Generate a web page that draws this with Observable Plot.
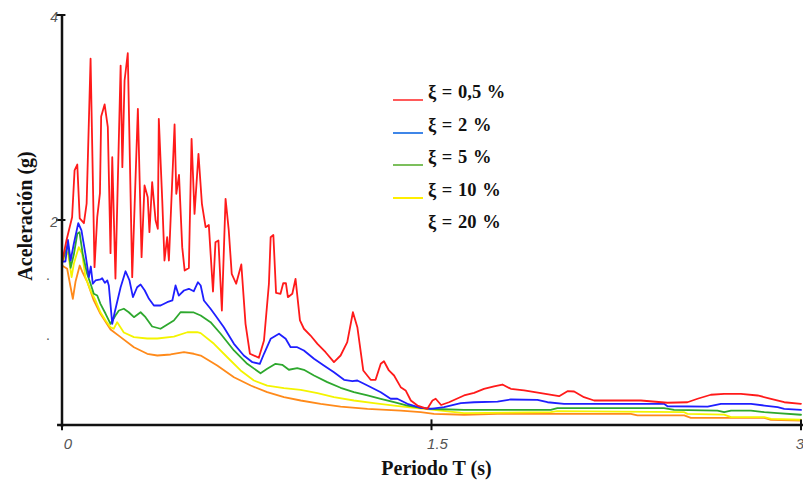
<!DOCTYPE html>
<html>
<head>
<meta charset="utf-8">
<script src="https://cdn.jsdelivr.net/npm/d3@7"></script>
<script src="https://cdn.jsdelivr.net/npm/@observablehq/plot@0.6"></script>
<style>
  body { margin: 0; background: #fff; }
  #wrap { position: relative; width: 803px; height: 484px; }
  #legend { position: absolute; left: 393px; top: 82px; font-family: "Liberation Serif", "Times New Roman", serif; font-weight: bold; font-size: 18.5px; color: #111; word-spacing: 1px; }
  .row { position: relative; height: 32.5px; }
  .row .sw { position: absolute; left: 0; top: 17px; width: 30px; height: 2px; }
  .row .lb { position: absolute; left: 35px; top: 0px; white-space: nowrap; }
</style>
</head>
<body>
<div id="wrap"></div>
<script>
// ---- data ----
const seriesNames = ["ξ = 0,5 %", "ξ = 2 %", "ξ = 5 %", "ξ = 10 %", "ξ = 20 %"];
const seriesColors = ["#ff1a1a", "#1f1fff", "#2ea82e", "#f4f400", "#ff8a1a"];
const legendColors = ["#ff5a5a", "#3f86e8", "#7cbf5c", "#ffee00", null];

const T_05 = [0,0.018,0.041,0.051,0.062,0.072,0.089,0.100,0.116,0.132,0.143,0.154,0.159,0.173,0.186,0.197,0.204,0.217,0.238,0.245,0.254,0.267,0.285,0.308,0.323,0.335,0.348,0.355,0.366,0.380,0.389,0.393,0.407,0.416,0.427,0.434,0.457,0.464,0.475,0.488,0.498,0.515,0.526,0.538,0.554,0.568,0.583,0.596,0.613,0.623,0.635,0.649,0.664,0.677,0.689,0.707,0.728,0.745,0.763,0.799,0.820,0.840,0.847,0.858,0.869,0.887,0.898,0.909,0.917,0.935,0.948,0.966,0.982,1.009,1.037,1.070,1.104,1.131,1.158,1.181,1.199,1.223,1.253,1.273,1.294,1.307,1.327,1.348,1.375,1.395,1.416,1.443,1.483,1.504,1.517,1.539,1.571,1.632,1.673,1.713,1.754,1.788,1.822,1.876,1.944,2.018,2.052,2.079,2.119,2.160,2.350,2.458,2.539,2.580,2.634,2.688,2.756,2.824,2.878,2.932,3.0];
const A_05 = [1.585,1.800,2.027,2.483,2.541,2.015,1.969,2.161,3.573,1.540,2.027,2.259,3.010,3.127,2.905,1.676,2.613,1.429,3.507,2.515,3.361,3.627,1.442,3.085,1.637,2.337,2.222,1.881,2.369,1.995,1.914,2.987,2.190,1.605,1.832,1.605,2.932,2.256,2.439,1.735,1.507,1.532,2.792,2.060,2.646,2.158,1.930,1.951,1.302,1.783,1.800,1.117,2.207,1.898,1.475,1.378,1.566,0.987,0.695,0.656,0.824,1.378,1.832,1.854,1.288,1.280,1.383,1.383,1.247,1.280,1.426,1.020,0.939,0.873,0.792,0.710,0.613,0.678,0.808,1.100,0.954,0.532,0.441,0.441,0.597,0.622,0.532,0.483,0.369,0.337,0.239,0.190,0.158,0.239,0.256,0.195,0.222,0.288,0.314,0.353,0.376,0.395,0.353,0.337,0.310,0.281,0.330,0.327,0.271,0.239,0.239,0.217,0.222,0.256,0.295,0.304,0.304,0.288,0.256,0.222,0.207];

const T_2 = [0,0.014,0.024,0.035,0.048,0.066,0.079,0.095,0.109,0.117,0.125,0.136,0.156,0.163,0.174,0.184,0.190,0.204,0.214,0.238,0.258,0.274,0.288,0.305,0.319,0.336,0.353,0.373,0.400,0.427,0.448,0.461,0.474,0.495,0.515,0.535,0.552,0.563,0.576,0.603,0.623,0.657,0.698,0.738,0.773,0.803,0.820,0.847,0.881,0.908,0.928,0.955,0.982,1.023,1.063,1.104,1.145,1.179,1.199,1.240,1.294,1.334,1.361,1.402,1.456,1.497,1.551,1.619,1.673,1.768,1.822,1.930,1.971,2.038,2.444,2.458,2.621,2.675,2.797,2.851,2.905,2.932,3.0];
const A_2 = [1.595,1.595,1.807,1.605,1.768,1.969,1.898,1.670,1.442,1.546,1.378,1.410,1.420,1.432,1.387,1.410,1.361,0.987,1.100,1.344,1.500,1.410,1.247,1.344,1.371,1.312,1.231,1.166,1.166,1.198,1.215,1.361,1.263,1.312,1.329,1.305,1.393,1.361,1.215,1.134,1.068,0.954,0.792,0.678,0.613,0.597,0.695,0.841,0.890,0.841,0.759,0.759,0.727,0.646,0.580,0.515,0.441,0.427,0.434,0.385,0.320,0.256,0.256,0.207,0.168,0.158,0.174,0.213,0.222,0.229,0.249,0.246,0.222,0.207,0.207,0.183,0.180,0.207,0.207,0.190,0.174,0.158,0.148];

const T_5 = [0,0.014,0.024,0.035,0.048,0.062,0.071,0.084,0.102,0.116,0.129,0.143,0.156,0.177,0.197,0.217,0.231,0.251,0.271,0.292,0.319,0.339,0.366,0.400,0.454,0.481,0.535,0.563,0.603,0.644,0.698,0.752,0.806,0.833,0.867,0.894,0.921,0.955,0.982,1.023,1.077,1.131,1.185,1.240,1.294,1.348,1.402,1.456,1.510,1.632,1.984,2.011,2.444,2.485,2.661,2.688,2.716,2.797,2.851,2.905,3.0];
const A_5 = [1.595,1.686,1.768,1.534,1.663,1.865,1.881,1.670,1.475,1.378,1.280,1.263,1.182,1.085,0.987,1.068,1.117,1.134,1.100,1.052,1.100,1.052,0.961,0.939,1.020,1.100,1.098,1.068,1.003,0.890,0.727,0.597,0.505,0.548,0.597,0.587,0.539,0.554,0.539,0.483,0.418,0.363,0.320,0.288,0.256,0.222,0.190,0.168,0.156,0.148,0.148,0.164,0.164,0.148,0.141,0.125,0.141,0.141,0.125,0.115,0.100];

const T_10 = [0,0.014,0.024,0.039,0.048,0.068,0.082,0.095,0.116,0.136,0.156,0.177,0.197,0.210,0.224,0.251,0.292,0.346,0.387,0.454,0.509,0.549,0.563,0.617,0.671,0.725,0.779,0.833,0.901,0.969,1.037,1.104,1.185,1.266,1.348,1.429,1.510,1.632,1.984,2.011,2.526,2.539,2.688,2.716,2.851,2.878,3.0];
const A_10 = [1.579,1.654,1.686,1.442,1.573,1.735,1.670,1.442,1.312,1.215,1.100,1.020,0.954,0.939,1.003,0.902,0.857,0.844,0.844,0.863,0.905,0.905,0.896,0.792,0.661,0.532,0.434,0.385,0.359,0.343,0.310,0.271,0.239,0.213,0.190,0.168,0.148,0.115,0.125,0.135,0.125,0.109,0.102,0.076,0.076,0.060,0.051];

const T_20 = [0,0.021,0.035,0.044,0.055,0.072,0.083,0.102,0.129,0.156,0.197,0.238,0.292,0.346,0.387,0.441,0.495,0.535,0.563,0.630,0.698,0.766,0.833,0.901,0.969,1.050,1.131,1.240,1.375,1.456,1.510,1.632,1.768,2.309,2.336,2.526,2.553,2.851,2.878,3.0];
const A_20 = [1.556,1.524,1.344,1.231,1.400,1.556,1.491,1.400,1.215,1.085,0.932,0.857,0.759,0.695,0.678,0.688,0.710,0.695,0.678,0.580,0.466,0.385,0.320,0.271,0.239,0.207,0.180,0.158,0.141,0.125,0.109,0.100,0.109,0.109,0.093,0.093,0.070,0.070,0.051,0.044];

const xTicks = [0, 1.5, 3];
const xTickLabels = ["0", "1.5", "3"];
const yTicks = [4, 2];
const yTickLabels = ["4", "2"];
const yDots = [1.44, 0.85];
const xTitle = "Periodo T (s)";
const yTitle = "Aceleración (g)";

// ---- build table ----
const Ts = [T_05, T_2, T_5, T_10, T_20];
const As = [A_05, A_2, A_5, A_10, A_20];
const rows = [];
Ts.forEach((ts, i) => ts.forEach((t, j) => rows.push({T: t, A: As[i][j], s: seriesNames[i]})));
const drawOrder = [4, 3, 2, 1, 0];

const serif = "'Liberation Serif', 'Times New Roman', serif";
const sans = "'Liberation Sans', Arial, sans-serif";

const chart = Plot.plot({
  width: 803,
  height: 484,
  marginLeft: 61.5,
  marginRight: 2.5,
  marginTop: 14.5,
  marginBottom: 59.5,
  style: {background: "#fff", overflow: "visible"},
  x: {domain: [0, 3], axis: null},
  y: {domain: [0, 4], axis: null},
  color: {domain: seriesNames, range: seriesColors},
  marks: [
    ...drawOrder.map(i => Plot.line(rows.filter(d => d.s === seriesNames[i]), {
      x: "T", y: "A", stroke: "s", strokeWidth: 1.8, curve: "linear"
    })),
    // axis lines
    Plot.ruleX([0], {y1: -0.025, y2: 4, stroke: "#111", strokeWidth: 2.5}),
    Plot.ruleY([0], {x1: -0.018, x2: 3.01, stroke: "#111", strokeWidth: 2.5}),
    // ticks
    Plot.ruleX(xTicks, {y1: -0.055, y2: 0.05, stroke: "#111", strokeWidth: 2}),
    Plot.ruleY(yTicks, {x1: -0.022, x2: 0.016, stroke: "#111", strokeWidth: 2}),
    // tick labels
    ...xTicks.map((t, i) => Plot.text([t], {x: d => d, y: 0, text: () => xTickLabels[i], dy: 19,
      dx: i === xTicks.length - 1 ? -1 : 6,
      fontFamily: sans, fontStyle: "italic", fontSize: 15, fill: "#555", textAnchor: "middle"})),
    Plot.text(yTicks, {x: 0, y: d => d, text: (d, i) => yTickLabels[i], dx: -4, dy: 3,
      fontFamily: sans, fontStyle: "italic", fontSize: 14, fill: "#555", textAnchor: "end"}),
    Plot.text(yDots, {x: 0, y: d => d, text: () => ".", dx: -14, dy: -2,
      fontFamily: sans, fontSize: 14, fill: "#555", textAnchor: "middle"}),
    // axis titles
    Plot.text([xTitle], {frameAnchor: "bottom", dy: 44, dx: 5, text: d => d, lineAnchor: "middle", textAnchor: "middle",
      fontFamily: serif, fontWeight: "bold", fontSize: 20, fill: "#111"}),
    Plot.text([yTitle], {frameAnchor: "left", dx: -36, dy: -4, rotate: -90, text: d => d, textAnchor: "middle", lineAnchor: "middle",
      fontFamily: serif, fontWeight: "bold", fontSize: 20, fill: "#111"})
  ]
});

const wrap = document.getElementById("wrap");
wrap.appendChild(chart);

// legend
const legend = document.createElement("div");
legend.id = "legend";
seriesNames.forEach((name, i) => {
  const row = document.createElement("div");
  row.className = "row";
  if (legendColors[i]) {
    const sw = document.createElement("div");
    sw.className = "sw";
    sw.style.background = legendColors[i];
    row.appendChild(sw);
  }
  const lb = document.createElement("div");
  lb.className = "lb";
  lb.textContent = name;
  row.appendChild(lb);
  legend.appendChild(row);
});
wrap.appendChild(legend);
</script>
</body>
</html>
